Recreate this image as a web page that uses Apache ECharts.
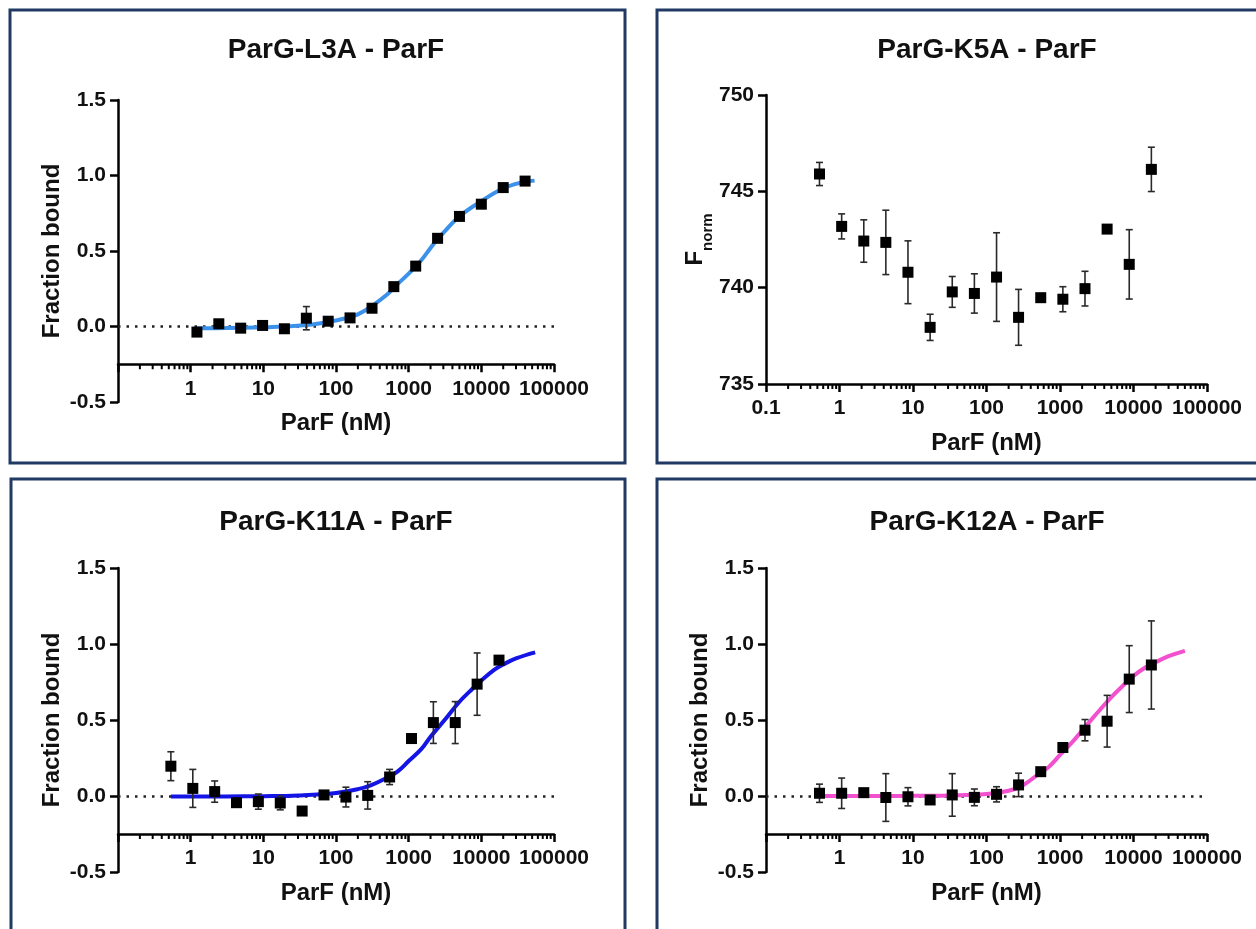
<!DOCTYPE html>
<html><head><meta charset="utf-8">
<script src="https://cdn.jsdelivr.net/npm/echarts@6/dist/echarts.min.js"></script>
<style>html,body{margin:0;padding:0;background:#fff}#c{width:1256px;height:929px}</style>
</head><body><div id="c"></div>
<script>
// ---------- text ----------
const titles = ['ParG-L3A - ParF', 'ParG-K5A - ParF', 'ParG-K11A - ParF', 'ParG-K12A - ParF'];
const xAxisName = 'ParF (nM)';
const yAxisNames = ['Fraction bound', '{f|F}{s|norm}', 'Fraction bound', 'Fraction bound'];

// ---------- data ----------
// Panel 1: ParG-L3A
const l3aConc = [1.22, 2.44, 4.88, 9.77, 19.5, 39.1, 78.1, 156, 313, 625, 1250, 2500, 5000, 10000, 20000, 40000];
const l3aMean = [-0.037, 0.018, -0.011, 0.007, -0.015, 0.055, 0.035, 0.057, 0.121, 0.264, 0.40, 0.584, 0.729, 0.81, 0.92, 0.963];
const l3aErr  = [0.01, 0.01, 0.015, 0.01, 0.02, 0.077, 0.02, 0.01, 0.015, 0.02, 0.02, 0.015, 0.015, 0.02, 0.025, 0.015];
const l3aFitX = [1.22, 3, 10, 20, 50, 100, 150, 200, 300, 500, 700, 1000, 1250, 1500, 2000, 2500, 3000, 5000, 10000, 20000, 30000, 40000, 54000];
const l3aFitY = [-0.012, -0.01, -0.005, 0.0, 0.015, 0.04, 0.06, 0.08, 0.13, 0.21, 0.28, 0.35, 0.40, 0.44, 0.52, 0.58, 0.62, 0.73, 0.83, 0.915, 0.945, 0.958, 0.966];

// Panel 2: ParG-K5A
const k5aConc = [0.534, 1.07, 2.14, 4.27, 8.54, 17.1, 34.2, 68.4, 137, 273, 547, 1094, 2188, 4375, 8750, 17500];
const k5aMean = [745.9, 743.18, 742.42, 742.35, 740.8, 737.94, 739.78, 739.7, 740.55, 738.46, 739.48, 739.4, 739.95, 743.04, 741.21, 746.14];
const k5aErr  = [0.6, 0.65, 1.1, 1.67, 1.63, 0.68, 0.8, 1.02, 2.3, 1.45, 0.15, 0.65, 0.9, 0.2, 1.8, 1.15];

// Panel 3: ParG-K11A
const k11aConc = [0.534, 1.07, 2.14, 4.27, 8.54, 17.1, 34.2, 68.4, 137, 273, 547, 1094, 2188, 4375, 8750, 17500];
const k11aMean = [0.196, 0.05, 0.029, -0.044, -0.037, -0.046, -0.099, 0.007, -0.007, 0.004, 0.125, 0.378, 0.483, 0.483, 0.736, 0.894];
const k11aErr  = [0.095, 0.125, 0.07, 0.015, 0.05, 0.045, 0.02, 0.02, 0.065, 0.09, 0.05, 0.03, 0.137, 0.138, 0.205, 0.02];
const k11aFitX = [0.534, 1, 3, 10, 30, 100, 200, 300, 500, 700, 1000, 1500, 2000, 3000, 5000, 7000, 10000, 15000, 20000, 30000, 55000];
const k11aFitY = [-0.004, -0.004, -0.003, -0.001, 0.004, 0.02, 0.045, 0.07, 0.12, 0.16, 0.23, 0.31, 0.39, 0.49, 0.62, 0.69, 0.76, 0.83, 0.865, 0.905, 0.945];

// Panel 4: ParG-K12A
const k12aConc = [0.534, 1.07, 2.14, 4.27, 8.54, 17.1, 34.2, 68.4, 137, 273, 547, 1094, 2188, 4375, 8750, 17500];
const k12aMean = [0.018, 0.018, 0.022, -0.01, -0.005, -0.026, 0.007, -0.009, 0.011, 0.073, 0.16, 0.319, 0.433, 0.492, 0.769, 0.862];
const k12aErr  = [0.06, 0.1, 0.02, 0.157, 0.06, 0.015, 0.14, 0.055, 0.05, 0.077, 0.02, 0.03, 0.07, 0.17, 0.22, 0.29];
const k12aFitX = [0.534, 1, 3, 10, 30, 100, 200, 300, 500, 700, 1000, 1500, 2000, 3000, 5000, 7000, 10000, 15000, 20000, 30000, 50000];
const k12aFitY = [0.0, 0.0, 0.0, 0.001, 0.004, 0.013, 0.035, 0.065, 0.14, 0.19, 0.27, 0.36, 0.43, 0.53, 0.65, 0.72, 0.79, 0.85, 0.88, 0.92, 0.955];

// ---------- layout / style ----------
const FONT = '"Liberation Sans", Arial, sans-serif';
const panels = [
  { conc: l3aConc, mean: l3aMean, err: l3aErr, fitX: l3aFitX, fitY: l3aFitY, color: '#3c92ea',
    left: 118, top: 100, width: 436, height: 302, yMin: -0.5, yMax: 1.5, yInt: 0.5, yDec: 1,
    xLineAt: -0.25, zeroLine: true, hideFirstX: true, box: [10, 10, 615, 453], titleXY: [336, 50] },
  { conc: k5aConc, mean: k5aMean, err: k5aErr, fitX: null, fitY: null, color: null,
    left: 766, top: 95, width: 441, height: 289, yMin: 735, yMax: 750, yInt: 5, yDec: 0,
    xLineAt: 735, zeroLine: false, hideFirstX: false, box: [657, 10, 640, 453], titleXY: [987, 50] },
  { conc: k11aConc, mean: k11aMean, err: k11aErr, fitX: k11aFitX, fitY: k11aFitY, color: '#1414e6',
    left: 118, top: 568, width: 436, height: 304, yMin: -0.5, yMax: 1.5, yInt: 0.5, yDec: 1,
    xLineAt: -0.25, zeroLine: true, hideFirstX: true, box: [11, 479, 614, 500], titleXY: [336, 522] },
  { conc: k12aConc, mean: k12aMean, err: k12aErr, fitX: k12aFitX, fitY: k12aFitY, color: '#f350cf',
    left: 766, top: 568, width: 441, height: 304, yMin: -0.5, yMax: 1.5, yInt: 0.5, yDec: 1,
    xLineAt: -0.25, zeroLine: true, hideFirstX: true, box: [657, 479, 640, 500], titleXY: [987, 522] }
];

// minor tick positions of the log axis (2..9 x 10^k)
const minorTickVals = [];
for (let k = -1; k <= 4; k++) for (let m = 2; m <= 9; m++) minorTickVals.push(+(m * Math.pow(10, k)).toPrecision(3));

function errRender(params, api) {
  const x = api.value(0);
  const pLo = api.coord([x, api.value(1)]);
  const pHi = api.coord([x, api.value(2)]);
  const cap = 3.5;
  const style = {stroke: '#2a2a2a', lineWidth: 1.6};
  return {type: 'group', children: [
    {type: 'line', shape: {x1: pLo[0], y1: pLo[1], x2: pHi[0], y2: pHi[1]}, style: style},
    {type: 'line', shape: {x1: pHi[0] - cap, y1: pHi[1], x2: pHi[0] + cap, y2: pHi[1]}, style: style},
    {type: 'line', shape: {x1: pLo[0] - cap, y1: pLo[1], x2: pLo[0] + cap, y2: pLo[1]}, style: style}
  ]};
}
function minorRender(params, api) {
  const p = api.coord([api.value(0), api.value(1)]);
  return {type: 'line', shape: {x1: p[0], y1: p[1], x2: p[0], y2: p[1] + 5}, style: {stroke: '#000', lineWidth: 2}};
}

const AXIS_LINE = {color: '#000', width: 2.5};
const grids = [], xAxes = [], yAxes = [], series = [], graphics = [];
panels.forEach(function (P, i) {
  const split = P.xLineAt !== P.yMin;
  const span = P.yMax - P.yMin;
  // data grid: bottom edge is where the x axis line sits
  const dataH = split ? P.height * (P.yMax - P.xLineAt) / span : P.height;
  const gData = grids.length;
  grids.push({left: P.left, top: P.top, width: P.width, height: dataH, containLabel: false, outerBoundsMode: 'none'});
  const yLabel = {fontFamily: FONT, fontWeight: 'bold', fontSize: 21, color: '#111', margin: 12,
      formatter: function (v) { return v.toFixed(P.yDec); }};
  const yName = {name: yAxisNames[i], nameLocation: 'middle', nameRotate: 90, nameGap: i === 1 ? 46 : 54,
    nameTextStyle: {fontFamily: FONT, fontWeight: 'bold', fontSize: 24, color: '#111',
      rich: {f: {fontFamily: FONT, fontWeight: 'bold', fontSize: 24, color: '#111', lineHeight: 32, verticalAlign: 'top'},
             s: {fontFamily: FONT, fontWeight: 'bold', fontSize: 15, color: '#111', lineHeight: 15, verticalAlign: 'bottom'}}}};
  const yData = yAxes.length;
  if (split) {
    yAxes.push({type: 'value', gridIndex: gData, min: P.xLineAt, max: P.yMax, show: false, axisLine: {onZero: false}});
  } else {
    yAxes.push(Object.assign({
      type: 'value', gridIndex: gData, min: P.yMin, max: P.yMax, interval: P.yInt,
      axisLine: {show: true, onZero: false, lineStyle: AXIS_LINE},
      axisTick: {show: true, length: 8, lineStyle: AXIS_LINE},
      axisLabel: yLabel, splitLine: {show: false}}, yName));
  }
  xAxes.push({
    type: 'log', logBase: 10, gridIndex: gData, min: 0.1, max: 100000,
    axisLine: {show: true, onZero: false, lineStyle: AXIS_LINE},
    axisTick: {show: true, length: 8, lineStyle: AXIS_LINE},
    axisLabel: {fontFamily: FONT, fontWeight: 'bold', fontSize: 21, color: '#111', margin: 14,
      formatter: function (v) { if (P.hideFirstX && v < 0.5) return ''; return String(+(+v).toPrecision(6)); }},
    splitLine: {show: false}, minorTick: {show: false},
    name: xAxisName, nameLocation: 'middle', nameGap: 47,
    nameTextStyle: {fontFamily: FONT, fontWeight: 'bold', fontSize: 24, color: '#111'}
  });
  if (split) {
    // separate grid that only carries the full-length y axis (down to yMin)
    const gAx = grids.length;
    grids.push({left: P.left, top: P.top, width: P.width, height: P.height, containLabel: false, outerBoundsMode: 'none'});
    xAxes.push({type: 'value', gridIndex: gAx, min: 0, max: 1, show: false});
    yAxes.push(Object.assign({
      type: 'value', gridIndex: gAx, min: P.yMin, max: P.yMax, interval: P.yInt,
      axisLine: {show: true, onZero: false, lineStyle: AXIS_LINE},
      axisTick: {show: true, length: 8, lineStyle: AXIS_LINE},
      axisLabel: yLabel, splitLine: {show: false}}, yName));
  }
  const xi = xAxes.findIndex(function (a) { return a.gridIndex === gData; });
  // minor ticks
  series.push({type: 'custom', xAxisIndex: xi, yAxisIndex: yData, renderItem: minorRender, silent: true, z: 1,
    data: minorTickVals.map(function (v) { return [v, P.xLineAt]; }), encode: {x: 0, y: 1}});
  // fitted curve
  if (P.fitX) {
    series.push({type: 'line', xAxisIndex: xi, yAxisIndex: yData, smooth: 0.4, symbol: 'none', silent: true, z: 2,
      lineStyle: {color: P.color, width: 4}, data: P.fitX.map(function (x, j) { return [x, P.fitY[j]]; })});
  }
  // error bars
  series.push({type: 'custom', xAxisIndex: xi, yAxisIndex: yData, renderItem: errRender, silent: true, z: 3,
    data: P.conc.map(function (x, j) { return [x, P.mean[j] - P.err[j], P.mean[j] + P.err[j]]; }),
    encode: {x: 0, y: [1, 2]}});
  // points
  const sc = {type: 'scatter', xAxisIndex: xi, yAxisIndex: yData, symbol: 'rect', symbolSize: 11, z: 4,
    itemStyle: {color: '#000', opacity: 1}, data: P.conc.map(function (x, j) { return [x, P.mean[j]]; })};
  if (P.zeroLine) {
    sc.markLine = {silent: true, symbol: 'none', label: {show: false}, z: 1,
      lineStyle: {color: '#222', width: 2.5, type: [2.5, 6], opacity: 1}, data: [{yAxis: 0}]};
  }
  series.push(sc);
  // panel box and title
  graphics.push({type: 'rect', shape: {x: P.box[0], y: P.box[1], width: P.box[2], height: P.box[3]},
    style: {fill: 'none', stroke: '#203a64', lineWidth: 3}, silent: true});
  graphics.push({type: 'text', x: P.titleXY[0], y: P.titleXY[1],
    style: {text: titles[i], font: 'bold 28px ' + FONT, fill: '#111', align: 'center', verticalAlign: 'middle'}});
});

const chart = echarts.init(document.getElementById('c'), null, {renderer: 'canvas'});
chart.setOption({
  backgroundColor: '#ffffff', animation: false,
  grid: grids, xAxis: xAxes, yAxis: yAxes, series: series, graphic: graphics
});
</script></body></html>
